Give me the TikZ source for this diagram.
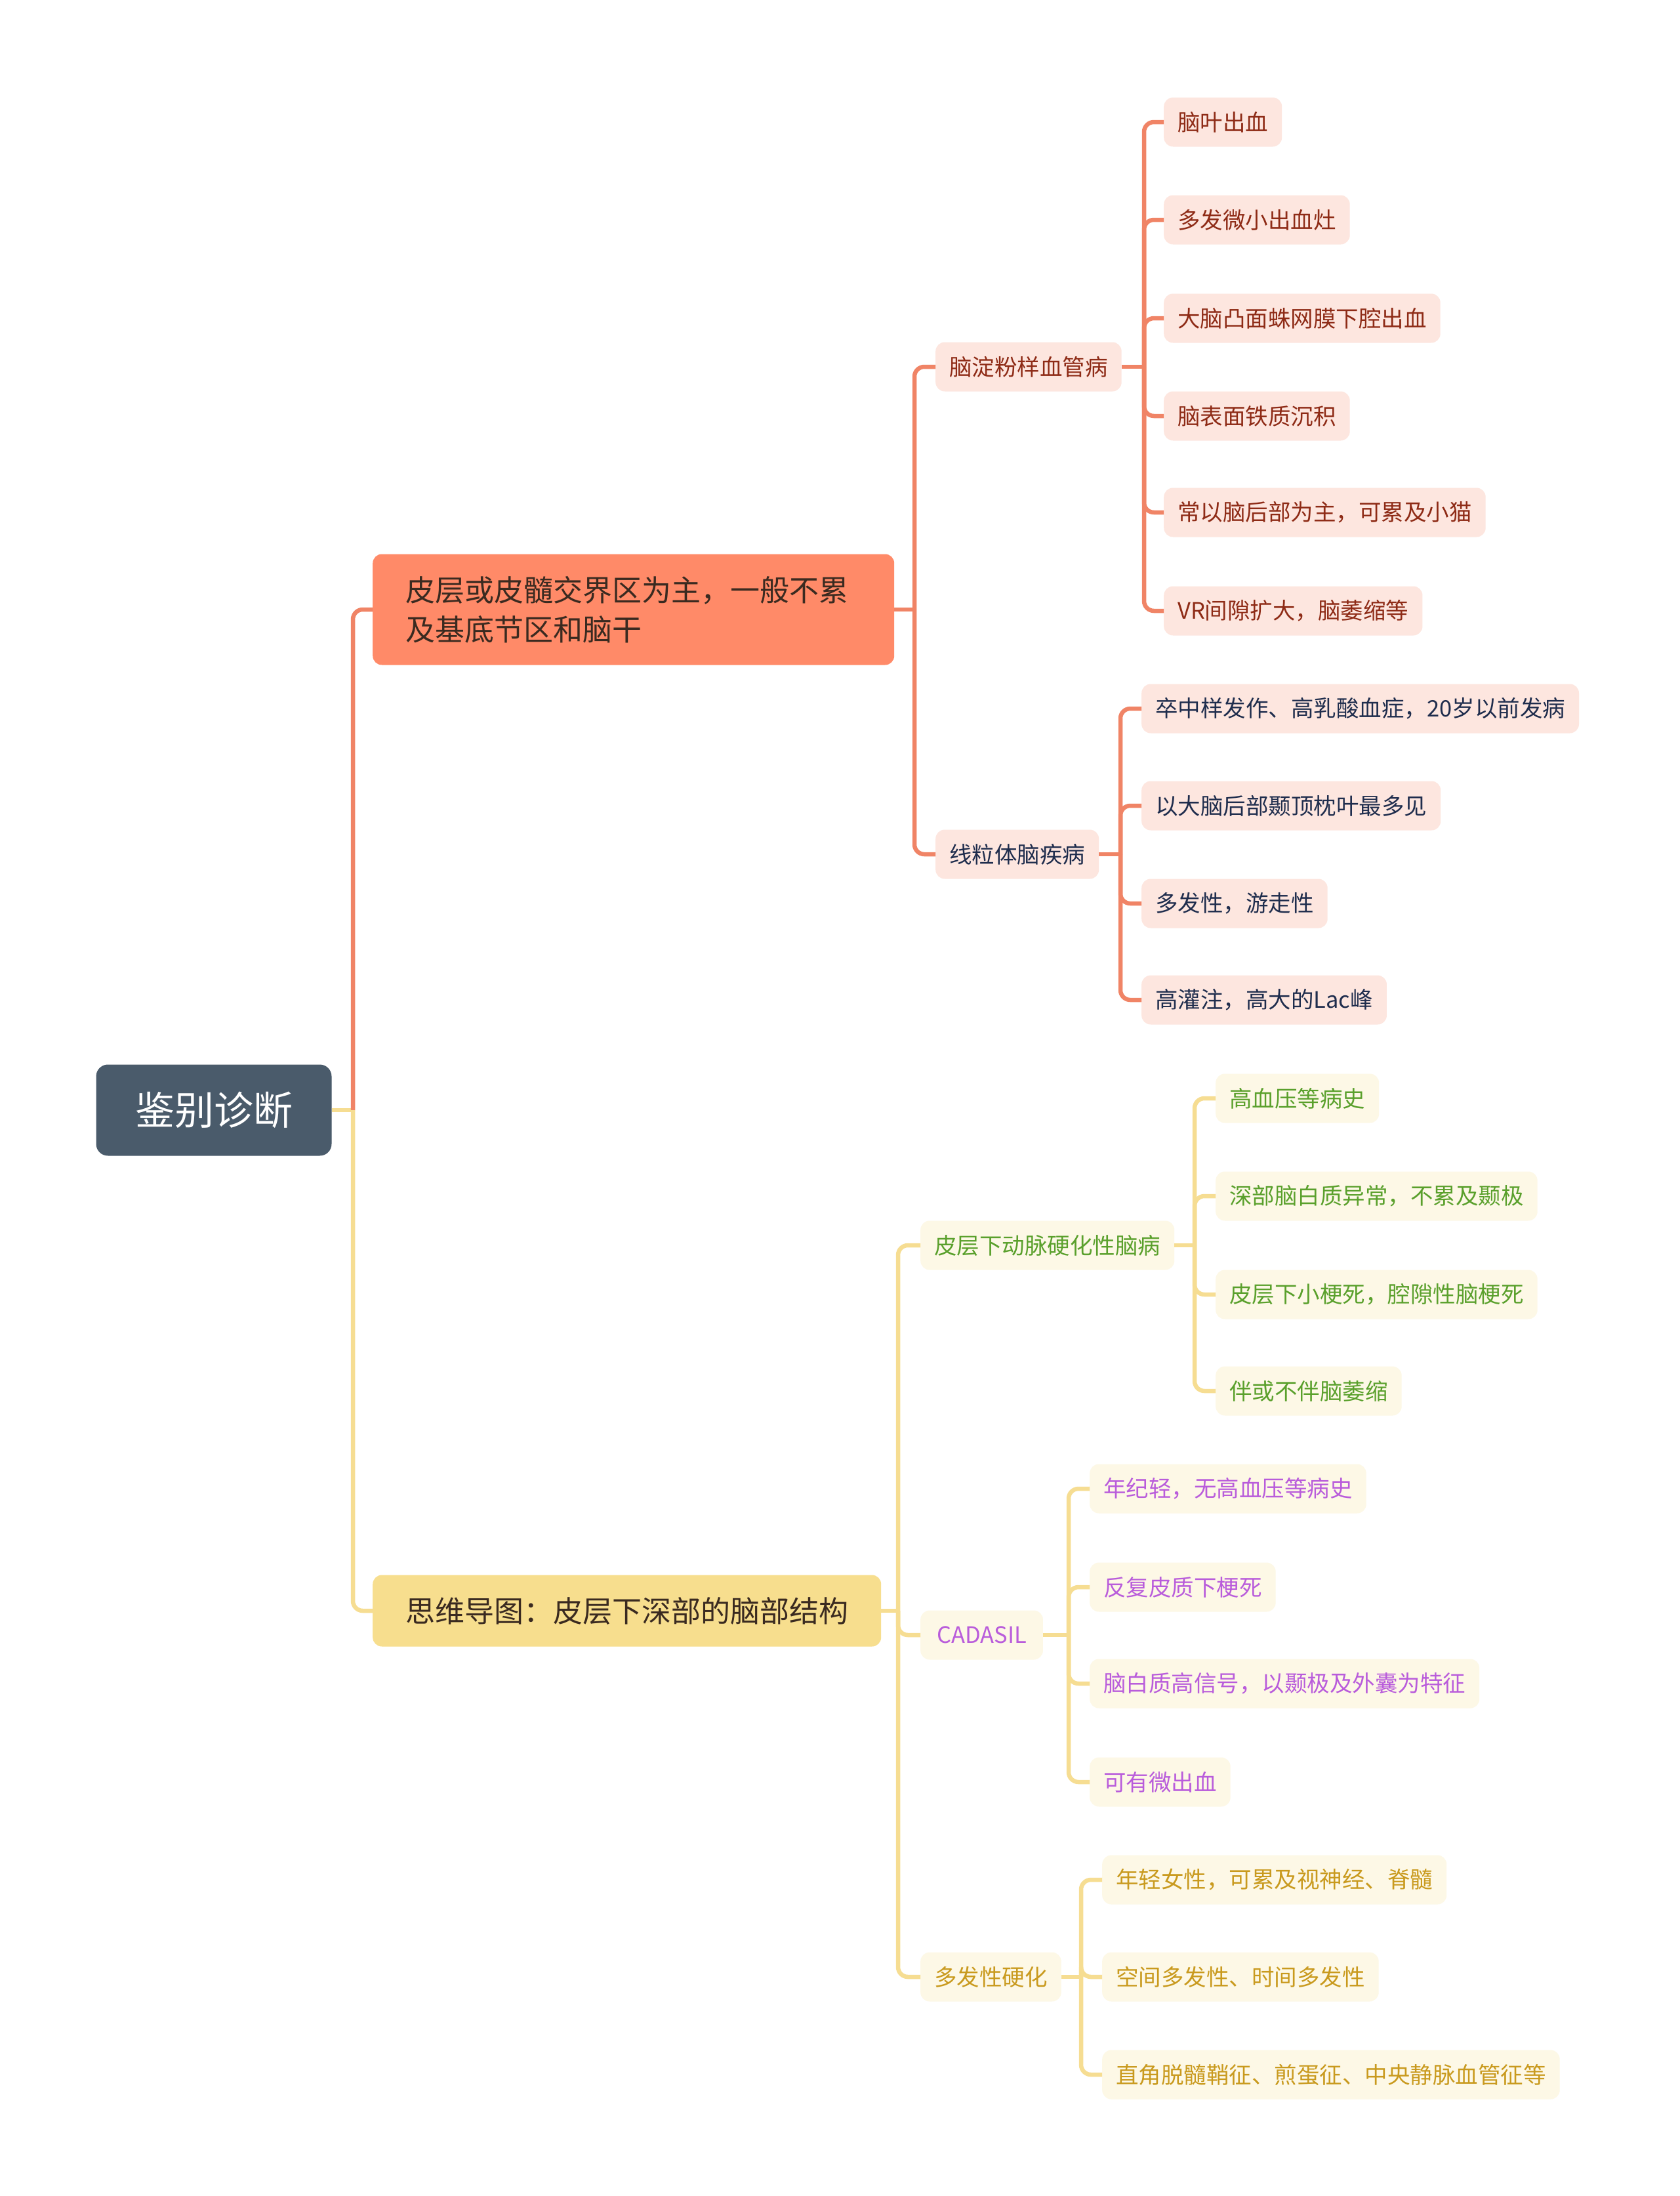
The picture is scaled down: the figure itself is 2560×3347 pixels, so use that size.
\documentclass[tikz,border=0pt]{standalone}
\usepackage{fontspec}
\setmainfont{Noto Sans CJK SC}
\definecolor{rootc}{HTML}{4A5B6B}
\definecolor{coral}{HTML}{FF8A68}
\definecolor{coralln}{HTML}{F08466}
\definecolor{pinkf}{HTML}{FDE6DF}
\definecolor{redt}{HTML}{8E2B16}
\definecolor{navyt}{HTML}{1F2D4D}
\definecolor{ylwf}{HTML}{F7DE8E}
\definecolor{ylwln}{HTML}{F6DD92}
\definecolor{creamf}{HTML}{FDF8E6}
\definecolor{greent}{HTML}{5AA02C}
\definecolor{purplet}{HTML}{B95CDB}
\definecolor{goldt}{HTML}{C99A1E}
\definecolor{darkt}{HTML}{3A2A20}
\begin{document}
\begin{tikzpicture}[x=1pt,y=-1pt,
  rootbox/.style={fill=rootc, rounded corners=18pt, text=white, font=\fontsize{60}{72}\selectfont, minimum width=359pt, minimum height=139pt, inner sep=0pt},
  bigbox/.style={rounded corners=14pt, font=\fontsize{45}{60}\selectfont, text=darkt, inner xsep=50pt, inner ysep=0pt, anchor=west, align=left},
  leaf/.style={rounded corners=14pt, font=\fontsize{34.5}{40}\selectfont, minimum height=75pt, inner xsep=21pt, inner ysep=0pt, anchor=west},
  pinkleaf/.style={leaf, fill=pinkf, text=redt},
  navyleaf/.style={leaf, fill=pinkf, text=navyt},
  greenleaf/.style={leaf, fill=creamf, text=greent},
  purpleleaf/.style={leaf, fill=creamf, text=purplet, inner xsep=25pt},
  goldleaf/.style={leaf, fill=creamf, text=goldt},
  oline/.style={draw=coralln, line width=6.5pt, rounded corners=15pt},
  yline/.style={draw=ylwln, line width=6.5pt, rounded corners=15pt}
]
\useasboundingbox[fill=white] (0,0) rectangle (2560,3347);

% root and first level
\node[rootbox] (root) at (326,1692) {鉴别诊断};
\node[bigbox, fill=coral, text width=695pt, minimum height=169pt] (b1) at (568,929) {皮层或皮髓交界区为主，一般不累\\及基底节区和脑干};
\node[bigbox, fill=ylwf, minimum height=109pt] (b2) at (568,2455) {思维导图：皮层下深部的脑部结构};

\coordinate (rj) at (538,1692);
\draw[yline] (root.east) -- (rj);
\draw[oline] (rj) |- (b1.west);
\draw[yline] (rj) |- (b2.west);

% upper second level
\node[pinkleaf] (cam) at (1426,559) {脑淀粉样血管病};
\node[navyleaf] (mito) at (1426,1302) {线粒体脑疾病};
\coordinate (j1) at (1394,929);
\draw[oline] (b1.east) -- (j1);
\draw[oline] (j1) |- (cam.west);
\draw[oline] (j1) |- (mito.west);

% children of cam
\node[pinkleaf] (c1) at (1774,186) {脑叶出血};
\node[pinkleaf] (c2) at (1774,335) {多发微小出血灶};
\node[pinkleaf] (c3) at (1774,485) {大脑凸面蛛网膜下腔出血};
\node[pinkleaf] (c4) at (1774,634) {脑表面铁质沉积};
\node[pinkleaf] (c5) at (1774,781) {常以脑后部为主，可累及小猫};
\node[pinkleaf] (c6) at (1774,931) {VR间隙扩大，脑萎缩等};
\coordinate (jc) at (1744,559);
\draw[oline] (cam.east) -- (jc);
\foreach \n in {c1,c2,c3,c4,c5,c6} \draw[oline] (jc) |- (\n.west);

% children of mito
\node[navyleaf] (m1) at (1740,1080) {卒中样发作、高乳酸血症，20岁以前发病};
\node[navyleaf] (m2) at (1740,1228) {以大脑后部颞顶枕叶最多见};
\node[navyleaf] (m3) at (1740,1377) {多发性，游走性};
\node[navyleaf] (m4) at (1740,1524) {高灌注，高大的Lac峰};
\coordinate (jm) at (1708,1302);
\draw[oline] (mito.east) -- (jm);
\foreach \n in {m1,m2,m3,m4} \draw[oline] (jm) |- (\n.west);

% lower second level
\node[greenleaf] (sae) at (1403,1898) {皮层下动脉硬化性脑病};
\node[purpleleaf] (cad) at (1403,2492) {CADASIL};
\node[goldleaf] (ms) at (1403,3013) {多发性硬化};
\coordinate (j2) at (1369,2455);
\draw[yline] (b2.east) -- (j2);
\draw[yline] (j2) |- (sae.west);
\draw[yline] (j2) |- (cad.west);
\draw[yline] (j2) |- (ms.west);

% children of sae
\node[greenleaf] (s1) at (1853,1674) {高血压等病史};
\node[greenleaf] (s2) at (1853,1823) {深部脑白质异常，不累及颞极};
\node[greenleaf] (s3) at (1853,1973) {皮层下小梗死，腔隙性脑梗死};
\node[greenleaf] (s4) at (1853,2120) {伴或不伴脑萎缩};
\coordinate (js) at (1821,1898);
\draw[yline] (sae.east) -- (js);
\foreach \n in {s1,s2,s3,s4} \draw[yline] (js) |- (\n.west);

% children of cadasil
\node[purpleleaf, inner xsep=21pt] (d1) at (1661,2269) {年纪轻，无高血压等病史};
\node[purpleleaf, inner xsep=21pt] (d2) at (1661,2419) {反复皮质下梗死};
\node[purpleleaf, inner xsep=21pt] (d3) at (1661,2566) {脑白质高信号，以颞极及外囊为特征};
\node[purpleleaf, inner xsep=21pt] (d4) at (1661,2716) {可有微出血};
\coordinate (jd) at (1629,2492);
\draw[yline] (cad.east) -- (jd);
\foreach \n in {d1,d2,d3,d4} \draw[yline] (jd) |- (\n.west);

% children of ms
\node[goldleaf] (e1) at (1680,2865) {年轻女性，可累及视神经、脊髓};
\node[goldleaf] (e2) at (1680,3013) {空间多发性、时间多发性};
\node[goldleaf] (e3) at (1680,3162) {直角脱髓鞘征、煎蛋征、中央静脉血管征等};
\coordinate (je) at (1648,3013);
\draw[yline] (ms.east) -- (je);
\foreach \n in {e1,e2,e3} \draw[yline] (je) |- (\n.west);
\end{tikzpicture}
\end{document}
